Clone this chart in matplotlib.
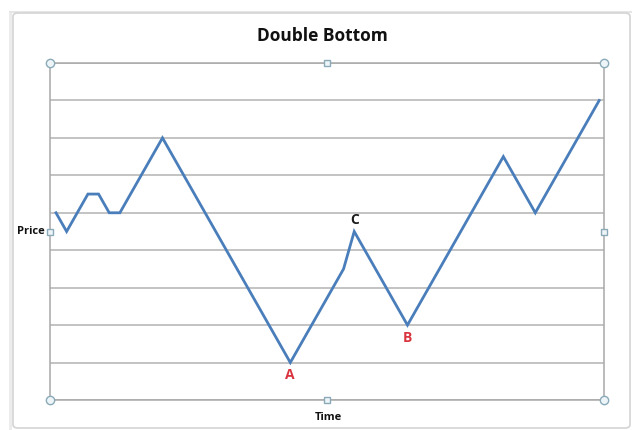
import matplotlib
matplotlib.use("Agg")
import matplotlib.pyplot as plt
from matplotlib.patches import FancyBboxPatch, Rectangle

# Price path of a double-bottom pattern
time_values = [0, 1, 3, 4, 5, 6, 10, 22, 27, 28, 33, 42, 45, 51]
price_values = [5, 4.5, 5.5, 5.5, 5, 5, 7, 1, 3.5, 4.5, 2, 6.5, 5, 8]

# Annotated points: (label, index into the series, colour, offset in points)
point_labels = ["A", "B", "C"]
point_index = [7, 10, 9]
point_colors = ["#d9343e", "#d9343e", "#1a1a1a"]
point_offsets = [(0, -9), (0, -9), (0, 8)]

W, H = 632, 430
fig = plt.figure(figsize=(W / 100, H / 100), dpi=100)
fig.patch.set_facecolor("white")

# Chart frame with rounded corners
frame = FancyBboxPatch((13 / W, 2 / H), 617 / W, 415 / H,
                       boxstyle="round,pad=0,rounding_size=0.008",
                       transform=fig.transFigure, facecolor="white",
                       edgecolor="#d4d4d4", linewidth=1.2, zorder=-2)
fig.patches.append(frame)
# faint sheet strips along the left and top edges
fig.patches.append(Rectangle((9 / W, 0), 3 / W, 417 / H, transform=fig.transFigure,
                             facecolor="#ececec", edgecolor="none", zorder=-3))
fig.patches.append(Rectangle((9 / W, 417 / H), 623 / W, 2 / H, transform=fig.transFigure,
                             facecolor="#e6e6e6", edgecolor="none", zorder=-3))

ax = fig.add_axes([50 / W, 30 / H, 554 / W, 337 / H])
ax.set_zorder(2)
ax.set_facecolor("white")
ax.set_xlim(-0.56, 51.45)
ax.set_ylim(0, 9)
ax.set_yticks(range(0, 10))
ax.set_xticks([])
ax.tick_params(left=False, labelleft=False)
ax.grid(axis="y", color="#b3b3b3", linewidth=1.1)
ax.set_axisbelow(True)
for s in ax.spines.values():
    s.set_color("#a8a8a8")
    s.set_linewidth(1.1)

ax.plot(time_values, price_values, color="#4a7ebb", linewidth=2.0,
        solid_joinstyle="miter", zorder=3)

for lab, idx, col, off in zip(point_labels, point_index, point_colors, point_offsets):
    ax.annotate(lab, (time_values[idx], price_values[idx]), xytext=off,
                textcoords="offset points", ha="center", va="center",
                color=col, fontsize=10, fontweight="bold", family="Open Sans")

# Title and axis titles
fig.text(322 / W, 1 - 36 / H, "Double Bottom", ha="center", va="center",
         fontsize=12.5, fontweight="bold", family="Open Sans", color="#111111")
fig.text(31 / W, 1 - 231 / H, "Price", ha="center", va="center",
         fontsize=8, fontweight="bold", family="Open Sans", color="#111111")
fig.text(328 / W, 1 - 417 / H, "Time", ha="center", va="center",
         fontsize=8, fontweight="bold", family="Open Sans", color="#111111")

# Selection handles around the plot area
handle_kw = dict(transform=ax.transAxes, clip_on=False, zorder=5,
                 markerfacecolor="#eef5f8", markeredgecolor="#8aaab8",
                 markeredgewidth=1.0, linestyle="none")
for hx, hy in [(0, 0), (1, 0), (0, 1), (1, 1)]:
    ax.plot([hx], [hy], marker="o", markersize=6, **handle_kw)
for hx, hy in [(0.5, 0), (0.5, 1), (0, 0.5), (1, 0.5)]:
    ax.plot([hx], [hy], marker="s", markersize=5, **handle_kw)

fig.savefig("out.png", dpi=100)
